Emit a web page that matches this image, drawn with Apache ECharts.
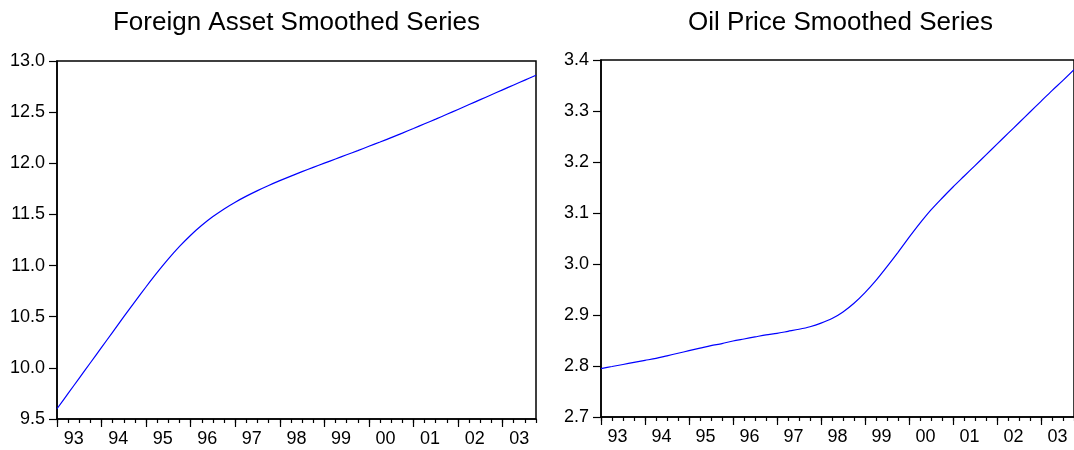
<!DOCTYPE html>
<html>
<head>
<meta charset="utf-8">
<title>Smoothed Series</title>
<script src="https://cdn.jsdelivr.net/npm/echarts@6/dist/echarts.min.js"></script>
<style>
  html, body { margin: 0; padding: 0; background: #ffffff; }
  #chart { width: 1074px; height: 450px; }
</style>
</head>
<body>
<div id="chart"></div>
<script>
// Quarterly observations, 1993Q1 - 2003Q4
const years = ['93', '94', '95', '96', '97', '98', '99', '00', '01', '02', '03'];
const quarters = ['Q1', 'Q2', 'Q3', 'Q4'];

// Foreign asset, smoothed (log level)
const foreignAsset = [
  9.600, 9.750, 9.900, 10.050,
  10.200, 10.350, 10.500, 10.648,
  10.793, 10.933, 11.065, 11.187,
  11.297, 11.394, 11.479, 11.554,
  11.620, 11.679, 11.733, 11.783,
  11.830, 11.875, 11.918, 11.960,
  12.001, 12.042, 12.083, 12.124,
  12.166, 12.208, 12.251, 12.295,
  12.340, 12.386, 12.432, 12.479,
  12.526, 12.574, 12.622, 12.670,
  12.718, 12.766, 12.813, 12.860
];

// Oil price, smoothed (log level)
const oilPrice = [
  2.795, 2.799, 2.803, 2.807,
  2.811, 2.815, 2.820, 2.825,
  2.830, 2.835, 2.840, 2.844,
  2.849, 2.853, 2.857, 2.861,
  2.864, 2.868, 2.872, 2.877,
  2.884, 2.893, 2.906, 2.923,
  2.944, 2.968, 2.995, 3.023,
  3.052, 3.080, 3.106, 3.129,
  3.151, 3.172, 3.193, 3.214,
  3.235, 3.256, 3.277, 3.298,
  3.319, 3.340, 3.360, 3.381
];

// Value axis ranges: [min, max, step]
const foreignAxis = [9.5, 13.0, 0.5];
const oilAxis = [2.7, 3.4, 0.1];

const titles = ['Foreign Asset Smoothed Series', 'Oil Price Smoothed Series'];

const periods = [];
years.forEach(y => quarters.forEach(q => periods.push(y + q)));

const FONT = '"Liberation Sans", Arial, Helvetica, sans-serif';
const BLUE = '#0000ff';

const grids = [
  { left: 57, top: 61, width: 479, height: 358 },
  { left: 601, top: 60, width: 479, height: 357 }
];

const chart = echarts.init(document.getElementById('chart'), null, { renderer: 'canvas' });

const option = {
  animation: false,
  backgroundColor: '#ffffff',
  title: titles.map((t, i) => ({
    text: t,
    left: grids[i].left + grids[i].width / 2,
    top: 10,
    padding: 0,
    textAlign: 'center',
    textStyle: { fontFamily: FONT, fontSize: 26, fontWeight: 'normal', color: '#000' }
  })),
  grid: grids.map(g => Object.assign({
    show: true,
    borderColor: '#000',
    borderWidth: 1.5,
    backgroundColor: '#fff',
    containLabel: false
  }, g)),
  xAxis: [0, 1].flatMap(gi => ([
    // quarterly minor ticks
    {
      type: 'category',
      gridIndex: gi,
      data: periods,
      boundaryGap: false,
      axisLine: { show: true, lineStyle: { color: '#000', width: 1.5 } },
      axisTick: { show: true, interval: 0, length: 4, lineStyle: { color: '#000', width: 1.2 } },
      axisLabel: { show: false },
      splitLine: { show: false }
    },
    // yearly major ticks and year labels
    {
      type: 'category',
      gridIndex: gi,
      position: 'bottom',
      data: periods,
      boundaryGap: false,
      axisLine: { show: false },
      axisTick: {
        show: true,
        interval: (idx) => idx % 4 === 0,
        length: 8,
        lineStyle: { color: '#000', width: 1.2 }
      },
      axisLabel: {
        show: true,
        interval: (idx) => idx % 4 === 1,
        formatter: (v) => v.slice(0, 2),
        fontFamily: FONT,
        fontSize: 18,
        color: '#000',
        margin: 11,
        padding: [0, 0, 0, 11]
      },
      splitLine: { show: false }
    }
  ])),
  yAxis: [foreignAxis, oilAxis].map((ax, gi) => ({
    type: 'value',
    gridIndex: gi,
    min: ax[0],
    max: ax[1],
    interval: ax[2],
    axisLine: { show: true, lineStyle: { color: '#000', width: 1.5 } },
    axisTick: { show: true, length: 8, lineStyle: { color: '#000', width: 1.2 } },
    axisLabel: {
      fontFamily: FONT,
      fontSize: 18,
      color: '#000',
      margin: 12,
      formatter: (v) => v.toFixed(1)
    },
    splitLine: { show: false }
  })),
  series: [
    {
      type: 'line',
      xAxisIndex: 0,
      yAxisIndex: 0,
      data: foreignAsset,
      showSymbol: false,
      smooth: 0.3,
      lineStyle: { color: BLUE, width: 1.2 }
    },
    {
      type: 'line',
      xAxisIndex: 2,
      yAxisIndex: 1,
      data: oilPrice,
      showSymbol: false,
      smooth: 0.3,
      lineStyle: { color: BLUE, width: 1.2 }
    }
  ]
};

chart.setOption(option);
</script>
</body>
</html>
